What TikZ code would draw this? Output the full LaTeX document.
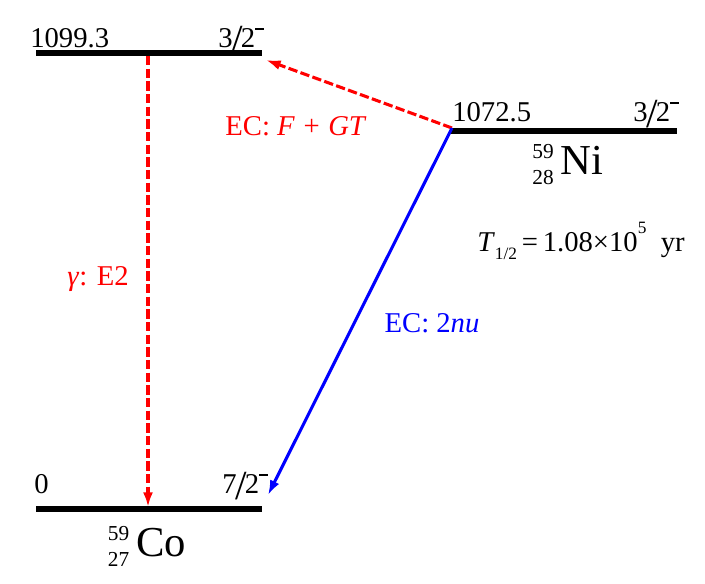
\documentclass[tikz,border=0pt]{standalone}
\usepackage{fontspec}
\setmainfont{Liberation Serif}
\usetikzlibrary{arrows.meta}
\newcommand{\spin}[1]{#1\kern-0.06em{\fontsize{31}{31}\selectfont\raisebox{-5pt}{/}}\kern-0.06em2\raisebox{0.6em}{\rule{0.3em}{0.05em}}}
\newcommand{\nucl}[3]{{\fontsize{16}{19.5}\selectfont\raisebox{-7pt}{\begin{tabular}[b]{@{}r@{}}#1\\#2\end{tabular}}}\,#3}
\begin{document}
\begin{tikzpicture}[x=0.75pt,y=-0.75pt,
                    lvl/.style = {line width=4.4pt},
                    lbl/.style = {inner sep=0pt,
                                  font=\fontsize{21.5}{21.5}\selectfont},
                    nuc/.style = {inner sep=0pt,
                                  font=\fontsize{32}{32}\selectfont},
                    decay/.style = {line width=2.3pt,
                                    -{Latex[length=11pt,width=7.5pt]}},
                    redash/.style = {decay, red, dash pattern=on 7pt off 2.5pt}]
		\useasboundingbox (0,0) rectangle (705,583);
		% levels
		\coordinate (exL) at (36,53);
		\coordinate (exR) at (262,53);
		\coordinate (niL) at (450,131);
		\coordinate (niR) at (677,131);
		\coordinate (coL) at (36,509);
		\coordinate (coR) at (262,509);
		\draw[lvl] (exL) -- (exR);
		\draw[lvl] (niL) -- (niR);
		\draw[lvl] (coL) -- (coR);
		% arrow ends
		\coordinate (gTop) at (148,56);
		\coordinate (gBot) at (148,507);
		\coordinate (ecTop) at (266,60);
		\coordinate (ecBot) at (268,495);
		\coordinate (niS) at (452,128);
		\draw[redash] (gTop) -- (gBot);
		\draw[redash] (niS) -- (ecTop);
		\draw[decay, blue] (niS) -- (ecBot);
		% labels
		\node[lbl, anchor=base west] (exE) at (30,47) {1099.3};
		\node[lbl, anchor=base east] (exJ) at (264,47) {\spin{3}};
		\node[lbl, anchor=base west] (niE) at (452,121) {1072.5};
		\node[lbl, anchor=base east] (niJ) at (679,121) {\spin{3}};
		\node[lbl, anchor=base west] (coE) at (34,493) {0};
		\node[lbl, anchor=base east] (coJ) at (268,493) {\spin{7}};
		\node[nuc] (ni) at (568,166) {\nucl{59}{28}{Ni}};
		\node[nuc] (co) at (147,548) {\nucl{59}{27}{Co}};
		\node[lbl, anchor=base] (half) at (581,251)
			{\textit{T}\raisebox{-0.3em}{\fontsize{13}{13}\selectfont 1/2}\,=\,1.08\texttimes10\raisebox{0.6em}{\fontsize{13}{13}\selectfont 5}\ \ yr};
		\node[lbl, anchor=base, red] (ecfg) at (296,135) {EC: \textit{F}\hspace{0.3em}+\hspace{0.3em}\textit{GT}};
		\node[lbl, anchor=base, red] (gam) at (98,285) {\textit{γ}: E2};
		\node[lbl, anchor=base, blue] (ec2) at (432,332) {EC: 2\textit{nu}};
	\end{tikzpicture}
\end{document}
